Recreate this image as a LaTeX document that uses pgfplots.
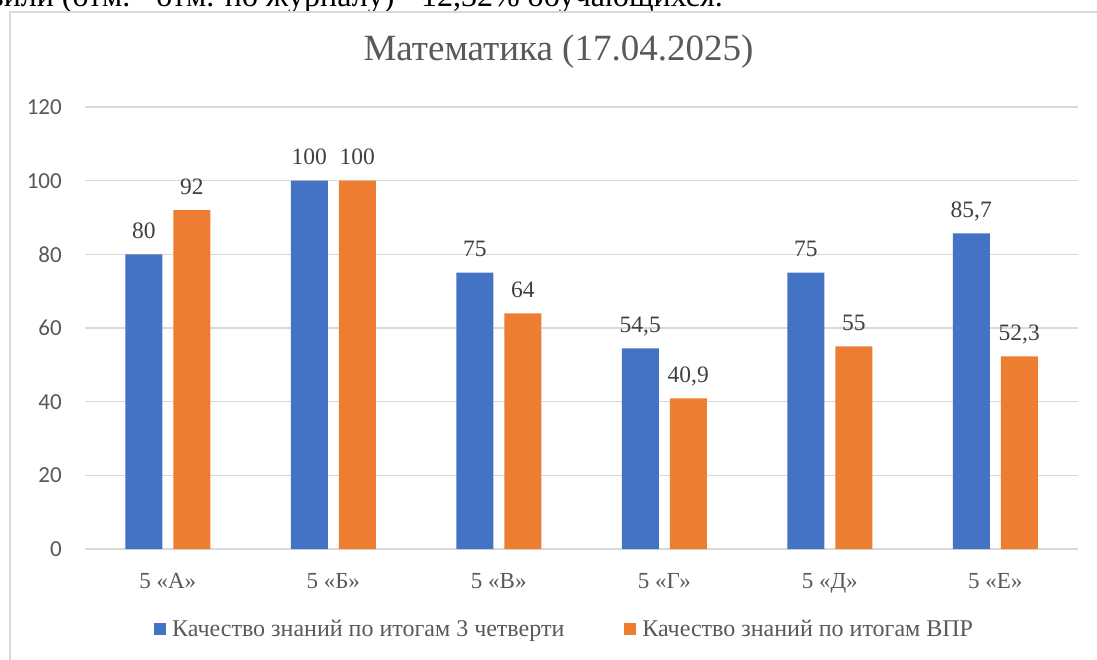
\documentclass[border=0pt]{standalone}
\usepackage{pgfplots}
\pgfplotsset{compat=1.18}
\usepackage{pgfplotstable}
\usepackage{fontspec}
\setmainfont{Liberation Serif}
\newfontfamily\carlito{Carlito}
\definecolor{cblue}{HTML}{4472C4}
\definecolor{corange}{HTML}{ED7D31}
\definecolor{ctext}{HTML}{595959}
\definecolor{clabel}{HTML}{404040}
\definecolor{cgrid}{HTML}{D9D9D9}

\pgfplotstableread{
x q3 vpr
0 80 92
1 100 100
2 75 64
3 54.5 40.9
4 75 55
5 85.7 52.3
}\datatable

\begin{document}
\begin{tikzpicture}
\useasboundingbox (0pt,0pt) rectangle (1097pt,659pt);
\clip (0pt,0pt) rectangle (1097pt,659pt);
\fill[white] (0pt,0pt) rectangle (1097pt,659pt);
% cropped text line above the chart
\node[anchor=base east, inner sep=0pt, font=\fontsize{32}{32}\selectfont, text=black] at (723pt,652pt)
  {Понизили (отм.= отм. по журналу) - 12,32\% обучающихся.};
% chart frame
\draw[cgrid, line width=1.5pt] (10pt,-5pt) -- (10pt,647pt) -- (1105pt,647pt);
\begin{axis}[
  at={(85pt,110pt)}, anchor=south west,
  scale only axis, width=993pt, height=442pt,
  ybar=11pt, bar width=37pt,
  xmin=-0.5, xmax=5.5, ymin=0, ymax=120,
  enlargelimits=false,
  xtick={0,1,2,3,4,5},
  xticklabels={{5 «А»},{5 «Б»},{5 «В»},{5 «Г»},{5 «Д»},{5 «Е»}},
  ytick={0,20,40,60,80,100,120},
  ymajorgrids,
  major grid style={cgrid, line width=1.5pt},
  axis line style={draw=none},
  major tick length=0pt,
  tick style={draw=none},
  /pgf/number format/.cd, use comma, fixed, precision=1, assume math mode=true,
  /pgfplots/.cd,
  yticklabel style={font=\carlito\fontsize{23}{23}\selectfont, text=ctext, anchor=east, inner sep=0pt, xshift=-23pt},
  xticklabel style={font=\fontsize{23}{23}\selectfont, text=ctext, anchor=base, inner sep=0pt, yshift=-39pt},
  title={Математика (17.04.2025)},
  title style={at={(0.4768,1.0912)}, anchor=base, inner sep=0pt, font=\fontsize{37}{37}\selectfont, text=ctext},
  nodes near coords,
  nodes near coords style={font=\fontsize{23.5}{23.5}\selectfont, text=clabel, anchor=base, inner sep=0pt, yshift=16pt},
  legend columns=2,
  legend style={at={(0.0695,-0.1821)}, anchor=west, draw=none, fill=none, inner sep=0pt,
    font=\fontsize{24}{24}\selectfont, text=ctext,
    nodes={inner sep=0pt},
    /tikz/every odd column/.style={column sep=6pt},
    /tikz/every even column/.style={column sep=60pt}},
]
\addplot[fill=cblue, draw=none, legend image code/.code={\fill[cblue] (0pt,-6pt) rectangle (12pt,6pt);}] table[x=x, y=q3] {\datatable};
\addlegendentry{Качество знаний по итогам 3 четверти}
\addplot[fill=corange, draw=none, legend image code/.code={\fill[corange] (0pt,-6pt) rectangle (12pt,6pt);}] table[x=x, y=vpr] {\datatable};
\addlegendentry{Качество знаний по итогам ВПР}
\end{axis}
\end{tikzpicture}
\end{document}
